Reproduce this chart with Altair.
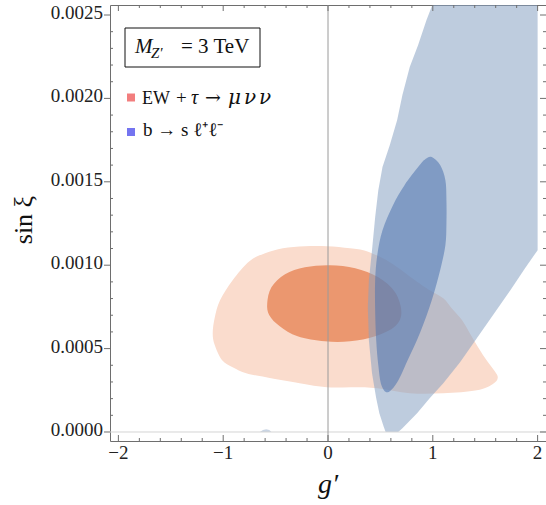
import altair as alt
import pandas as pd

# Plot area size (pixels) and frame ranges
W, H = 436, 436
X_DOMAIN = [-2.08, 2.08]
Y_DOMAIN = [-0.000054, 0.00256]

SERIF = "Liberation Serif"
GREEK = "DejaVu Serif"

# EW + tau -> mu nu nu : outer (light) allowed region
ew_outer_x = [-1.10, -1.08, -1.03, -0.91, -0.75, -0.60, -0.43, -0.22, -0.01, 0.21, 0.37,
              0.59, 0.83, 0.97, 1.10, 1.18, 1.28, 1.37, 1.48, 1.57, 1.62, 1.57, 1.42, 1.10,
              0.78, 0.47, 0.24, -0.01, -0.27, -0.59, -0.78, -0.91, -1.01, -1.08]
ew_outer_y = [0.000592, 0.000688, 0.000790, 0.000910, 0.001024, 0.001072, 0.001102, 0.001114,
              0.001114, 0.001102, 0.001084, 0.001018, 0.000910, 0.000850, 0.000802, 0.000742,
              0.000670, 0.000574, 0.000460, 0.000382, 0.000328, 0.000286, 0.000250, 0.000232,
              0.000232, 0.000262, 0.000268, 0.000268, 0.000292, 0.000328, 0.000352, 0.000388,
              0.000430, 0.000520]

# EW + tau -> mu nu nu : inner (dark) region
ew_inner_x = [-0.58, -0.54, -0.41, -0.22, 0.02, 0.26, 0.48, 0.64, 0.70, 0.64, 0.45, 0.21,
              -0.03, -0.29, -0.46, -0.56]
ew_inner_y = [0.000772, 0.000868, 0.000946, 0.000988, 0.001000, 0.000982, 0.000928, 0.000838,
              0.000718, 0.000634, 0.000574, 0.000544, 0.000544, 0.000574, 0.000634, 0.000700]

# b -> s l+ l- : outer (light) region, cut by the scan range at g' = 2 and sin xi = 0
bsll_outer_x = [1.02, 0.94, 0.86, 0.78, 0.71, 0.66, 0.59, 0.52, 0.48, 0.45, 0.42, 0.39, 0.38,
                0.39, 0.42, 0.46, 0.49, 0.53, 0.55, 0.67, 0.71, 0.85, 0.97, 1.10, 1.26, 1.42,
                1.58, 1.74, 1.88, 2.00, 2.00]
bsll_outer_y = [0.00260, 0.002470, 0.002320, 0.002188, 0.002020, 0.001870, 0.001720, 0.001588,
                0.001450, 0.001288, 0.001090, 0.000910, 0.000748, 0.000550, 0.000352, 0.000202,
                0.000112, 0.000034, 0.0, 0.0, 0.000022, 0.000112, 0.000202, 0.000292, 0.000418,
                0.000562, 0.000706, 0.000850, 0.000982, 0.001090, 0.00260]

# b -> s l+ l- : inner (dark) region
bsll_inner_x = [0.99, 1.07, 1.12, 1.13, 1.13, 1.12, 1.07, 0.99, 0.88, 0.76, 0.66, 0.57, 0.51,
                0.48, 0.46, 0.45, 0.45, 0.47, 0.52, 0.62, 0.73, 0.86, 0.93]
bsll_inner_y = [0.001648, 0.001600, 0.001510, 0.001390, 0.001252, 0.001120, 0.000970, 0.000790,
                0.000598, 0.000430, 0.000298, 0.000238, 0.000280, 0.000400, 0.000550, 0.000730,
                0.000910, 0.001060, 0.001210, 0.001360, 0.001480, 0.001588, 0.001636]

# small b -> s l+ l- island on the sin xi = 0 edge
bsll_island_x = [-0.65, -0.62, -0.59, -0.56, -0.54]
bsll_island_y = [0.0, 0.000012, 0.000016, 0.000012, 0.0]

# Frame ticks and their labels
x_major = [-2, -1, 0, 1, 2]
x_labels = ["\u22122", "\u22121", "0", "1", "2"]
x_minor = [-1.8, -1.6, -1.4, -1.2, -0.8, -0.6, -0.4, -0.2, 0.2, 0.4, 0.6, 0.8, 1.2, 1.4, 1.6, 1.8]
y_major = [0.0, 0.0005, 0.0010, 0.0015, 0.0020, 0.0025]
y_labels = ["0.0000", "0.0005", "0.0010", "0.0015", "0.0020", "0.0025"]
y_minor = [0.0001, 0.0002, 0.0003, 0.0004, 0.0006, 0.0007, 0.0008, 0.0009, 0.0011, 0.0012,
           0.0013, 0.0014, 0.0016, 0.0017, 0.0018, 0.0019, 0.0021, 0.0022, 0.0023, 0.0024]

# Texts
x_title = "g\u2032"
y_title = "sin \u03be"
mass_symbol = "M"
mass_sub = "Z\u2032"
mass_value = "= 3 TeV"
# legend entry pieces: (text, font, italic?, font size, left x relative to the plot area)
ew_pieces = [("EW", SERIF, False, 18, 32), ("+", SERIF, False, 19, 66),
             ("\u03c4", SERIF, True, 20, 81), ("\u2192", GREEK, False, 19, 95),
             ("\u03bc", GREEK, True, 20, 118), ("\u03bd", GREEK, True, 20, 134),
             ("\u03bd", GREEK, True, 20, 149)]
bsll_label = "b \u2192 s \u2113\u207a\u2113\u207b"

# Colours
EW_OUTER = "#fadccd"
EW_INNER = "#eb976f"
B_OUTER = "#89a2c3"
B_INNER = "#4d73af"
FRAME = "#6e6e6e"

xs = alt.Scale(domain=X_DOMAIN, nice=False, zero=False)
ys = alt.Scale(domain=Y_DOMAIN, nice=False, zero=False)


def region(xv, yv, color, opacity, interp):
    df = pd.DataFrame({"gp": xv, "sx": yv, "k": list(range(len(xv)))})
    return alt.Chart(df).mark_line(
        fill=color, fillOpacity=opacity, strokeOpacity=0, strokeWidth=0,
        interpolate=interp, clip=True,
    ).encode(
        x=alt.X("gp:Q", scale=xs, axis=None),
        y=alt.Y("sx:Q", scale=ys, axis=None),
        order=alt.Order("k:Q"),
    )


def xticks(vals, y0, y1):
    df = pd.DataFrame({"v": vals})
    return alt.Chart(df).mark_rule(color=FRAME, strokeWidth=1).encode(
        x=alt.X("v:Q", scale=xs, axis=None), y=alt.value(y0), y2=alt.value(y1))


def yticks(vals, x0, x1):
    df = pd.DataFrame({"v": vals})
    return alt.Chart(df).mark_rule(color=FRAME, strokeWidth=1).encode(
        y=alt.Y("v:Q", scale=ys, axis=None), x=alt.value(x0), x2=alt.value(x1))


def label(txt, x, y, size, style="normal", align="left", baseline="alphabetic", angle=0,
          font=SERIF):
    df = pd.DataFrame({"t": [txt]})
    opts = dict(font=font, fontSize=size, fontStyle=style, align=align,
                baseline=baseline, color="#111")
    if angle:
        opts["angle"] = angle
    return alt.Chart(df).mark_text(**opts).encode(
        text="t:N", x=alt.value(x), y=alt.value(y))


def box(x0, x1, y0, y1, fill, stroke=""):
    df = pd.DataFrame({"a": [0]})
    opts = dict(fill=fill)
    if stroke:
        opts.update(stroke=stroke, strokeWidth=1)
    return alt.Chart(df).mark_rect(**opts).encode(
        x=alt.value(x0), x2=alt.value(x1), y=alt.value(y0), y2=alt.value(y1))


# tick labels placed through the scales
x_tick_text = alt.Chart(pd.DataFrame({"v": x_major, "t": x_labels})).mark_text(
    font=SERIF, fontSize=19, color="#222", align="center", baseline="top"
).encode(x=alt.X("v:Q", scale=xs, axis=None), y=alt.value(H + 3), text="t:N")

y_tick_text = alt.Chart(pd.DataFrame({"v": y_major, "t": y_labels})).mark_text(
    font=SERIF, fontSize=19, color="#222", align="right", baseline="middle", dy=-2
).encode(y=alt.Y("v:Q", scale=ys, axis=None), x=alt.value(-7), text="t:N")

ew_layers = [label(t, x, 99, size, style="italic" if it else "normal", font=fnt)
             for (t, fnt, it, size, x) in ew_pieces]

layers = [
    region(ew_outer_x, ew_outer_y, EW_OUTER, 1.0, "cardinal-closed"),
    region(ew_inner_x, ew_inner_y, EW_INNER, 1.0, "cardinal-closed"),
    region(bsll_outer_x, bsll_outer_y, B_OUTER, 0.55, "linear"),
    region(bsll_inner_x, bsll_inner_y, B_INNER, 0.55, "cardinal-closed"),
    region(bsll_island_x, bsll_island_y, B_OUTER, 0.45, "linear"),
    # axes lines through the origin
    alt.Chart(pd.DataFrame({"v": [0.0]})).mark_rule(color="#d4d4d4", strokeWidth=1).encode(
        y=alt.Y("v:Q", scale=ys, axis=None)),
    alt.Chart(pd.DataFrame({"v": [0.0]})).mark_rule(color="#9a9a9a", strokeWidth=1).encode(
        x=alt.X("v:Q", scale=xs, axis=None)),
    # frame ticks
    xticks(x_major, H, H - 6),
    xticks(x_minor, H, H - 3),
    xticks(x_major, 0, 6),
    xticks(x_minor, 0, 3),
    yticks(y_major, -6, 0),
    yticks(y_minor, 0, 3),
    yticks(y_major, W, W - 6),
    yticks(y_minor, W, W - 3),
    x_tick_text,
    y_tick_text,
    # legend
    box(15, 150, 23, 62, "white", stroke="#111"),
    label(mass_symbol, 25, 48, 21, style="italic"),
    label(mass_sub, 41, 53, 15, style="italic"),
    label(mass_value, 71, 48, 21),
    box(17, 25, 88.5, 96.5, "#f27e7e"),
    *ew_layers,
    box(17, 25, 123, 131, "#7474f0"),
    label(bsll_label, 33, 131, 19),
    # axis titles
    label(x_title, W / 2, 488, 28, style="italic", align="center"),
    label(y_title, -86, 215, 26, align="center", baseline="middle", angle=270),
]

chart = alt.layer(*layers).properties(
    width=W, height=H,
    padding={"left": 110, "top": 5, "right": 0, "bottom": 64},
    autosize=alt.AutoSizeParams(type="none"),
).configure_view(stroke=FRAME, strokeWidth=1)

chart.save("out.html", embed_options={"renderer": "svg", "actions": False})
